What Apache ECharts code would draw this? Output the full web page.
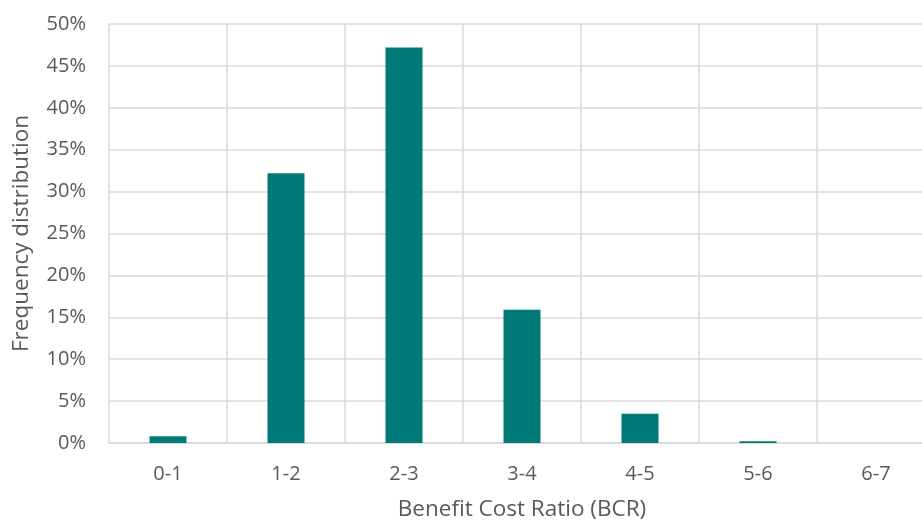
<!DOCTYPE html>
<html>
<head>
<meta charset="utf-8">
<script src="https://cdn.jsdelivr.net/npm/echarts@6/dist/echarts.min.js"></script>
<style>html,body{margin:0;padding:0;background:#fff;}#c{width:922px;height:524px;}</style>
</head>
<body>
<div id="c"></div>
<script>
const categories = ['0-1', '1-2', '2-3', '3-4', '4-5', '5-6', '6-7'];
const frequency = [0.8, 32.2, 47.2, 15.9, 3.5, 0.2, 0];
const yTicks = [0, 5, 10, 15, 20, 25, 30, 35, 40, 45, 50];

const chart = echarts.init(document.getElementById('c'));
const font = '"Open Sans", "Liberation Sans", sans-serif';
chart.setOption({
  animation: false,
  grid: { left: 109, right: -13, top: 24, bottom: 81, containLabel: false, outerBoundsMode: 'none' },
  xAxis: {
    type: 'category',
    data: categories,
    name: 'Benefit Cost Ratio (BCR)',
    nameLocation: 'middle',
    nameGap: 55,
    nameTextStyle: { color: '#595959', fontSize: 22.5, fontFamily: font },
    axisLine: { show: true, lineStyle: { color: '#d9d9d9', width: 1.5 } },
    axisTick: { show: false },
    axisLabel: { color: '#595959', fontSize: 20, fontFamily: font, margin: 21 },
    splitLine: { show: true, lineStyle: { color: '#d9d9d9', width: 1.5 } }
  },
  yAxis: {
    type: 'value',
    min: 0, max: 50, interval: 5,
    name: 'Frequency distribution',
    nameLocation: 'middle',
    nameGap: 76,
    nameTextStyle: { color: '#595959', fontSize: 22.5, fontFamily: font },
    axisLine: { show: false },
    axisTick: { show: false },
    axisLabel: {
      color: '#595959', fontSize: 20, fontFamily: font, margin: 23,
      formatter: v => (yTicks.includes(v) ? v + '%' : '')
    },
    splitLine: { show: true, lineStyle: { color: '#d9d9d9', width: 1.5 } }
  },
  series: [{
    type: 'bar',
    data: frequency,
    barWidth: 37,
    itemStyle: { color: '#007A78' }
  }]
});
</script>
</body>
</html>
